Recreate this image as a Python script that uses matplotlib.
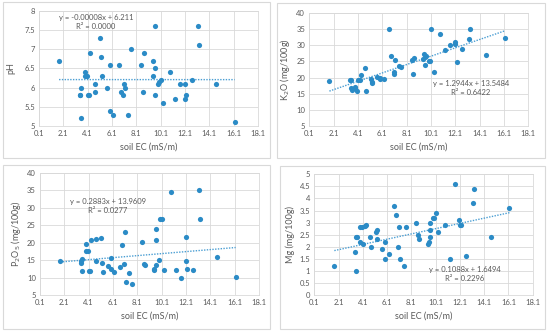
import matplotlib
matplotlib.use('Agg')
import matplotlib.pyplot as plt
from matplotlib.patches import Rectangle
from matplotlib.ticker import FormatStrFormatter, MultipleLocator

plt.rcParams['font.family'] = ['Lato', 'DejaVu Sans']

# soil EC (mS/m), shared by the four panels
soil_ec = [1.75, 3.45, 3.50, 3.56, 3.58, 3.86, 3.88, 4.05, 4.13, 4.25,
           4.33, 4.71, 4.73, 5.15, 5.23, 5.29, 5.67, 5.92, 5.95, 6.22,
           6.66, 6.85, 7.02, 7.10, 7.15, 7.45, 7.65, 8.52, 8.66, 8.69,
           9.46, 9.51, 9.60, 9.62, 9.65, 9.92, 9.98, 10.09, 10.31, 10.88,
           11.27, 11.68, 12.06, 12.09, 12.20, 12.64, 13.19, 13.27, 14.64, 16.18]

ph = [6.7, 5.8, 5.8, 6.0, 5.2, 6.4, 6.3, 6.3, 5.8, 5.8,
      6.9, 6.1, 5.9, 7.3, 6.8, 6.3, 6.0, 6.6, 5.4, 5.3,
      6.6, 5.9, 5.8, 6.1, 6.0, 5.3, 7.0, 6.6, 5.9, 6.9,
      6.7, 6.3, 7.6, 5.8, 6.5, 6.1, 6.15, 6.2, 5.6, 6.4,
      5.7, 6.1, 5.7, 6.1, 5.8, 6.2, 7.6, 7.1, 6.1, 5.1]

k2o = [18.8, 19.3, 19.3, 16.9, 16.0, 16.7, 17.2, 15.8, 19.1, 19.1,
       20.8, 23.1, 15.7, 19.6, 18.3, 18.7, 20.3, 19.6, 19.9, 19.5,
       35.1, 26.7, 21.6, 21.2, 25.5, 23.6, 23.4, 25.3, 21.2, 26.0,
       25.8, 27.3, 24.0, 26.4, 26.8, 25.0, 25.0, 35.0, 21.7, 33.6,
       28.5, 30.2, 31.0, 30.4, 24.7, 29.0, 31.9, 35.0, 27.1, 32.4]

p2o5 = [14.8, 14.3, 14.7, 15.2, 12.0, 19.7, 17.7, 17.7, 11.8, 11.8,
        20.9, 21.2, 14.8, 21.4, 14.3, 11.6, 13.3, 12.6, 15.6, 11.5,
        12.9, 19.3, 14.0, 23.0, 8.8, 11.2, 8.2, 20.1, 13.8, 13.6,
        12.1, 12.4, 13.6, 20.8, 24.0, 15.0, 26.7, 26.7, 12.3, 34.5,
        12.2, 9.8, 21.6, 14.8, 12.6, 12.3, 35.0, 26.9, 15.9, 10.3]

mg = [1.2, 1.8, 1.0, 2.4, 2.4, 2.8, 2.2, 2.8, 2.1, 2.85,
      2.9, 2.4, 2.0, 2.6, 2.7, 2.3, 1.9, 2.2, 1.5, 1.7,
      3.7, 3.3, 2.0, 2.8, 1.5, 1.2, 2.8, 3.0, 2.5, 2.3,
      2.12, 2.19, 2.41, 3.0, 2.7, 3.2, 3.2, 3.4, 2.6, 2.9,
      1.5, 4.6, 3.1, 2.9, 2.9, 1.6, 3.8, 4.4, 2.4, 3.6]

# trendline (slope, intercept, R2) as printed on the chart
trend_ph = (-0.00008, 6.211, '0.0000')
trend_k2o = (1.2944, 13.5484, '0.6422')
trend_p2o5 = (0.2883, 13.9609, '0.0277')
trend_mg = (0.1088, 1.6494, '0.2296')

eq_ph = 'y = -0.00008x + 6.211'
eq_k2o = 'y = 1.2944x + 13.5484'
eq_p2o5 = 'y = 0.2883x + 13.9609'
eq_mg = 'y = 0.1088x + 1.6494'

dot = '#2b8bc6'
grid = '#d9d9d9'
txt = '#595959'

W, H = 550, 333
fig = plt.figure(figsize=(W / 100, H / 100), dpi=100)

# outer boxes round each chart (pixels: x0, y0, x1, y1)
for x0, y0, x1, y1 in [(3, 2, 270, 158), (277, 3, 545, 158),
                       (3, 165, 270, 329), (280, 166, 545, 329)]:
    fig.patches.append(Rectangle((x0 / W, 1 - y1 / H), (x1 - x0) / W, (y1 - y0) / H,
                                 transform=fig.transFigure, fill=False,
                                 edgecolor=grid, linewidth=0.8))

panels = [
    ([0.0709, 0.6216, 0.3982, 0.3454], ph, trend_ph, eq_ph, 'pH', (5, 8, 0.5), 6, (96, 22)),
    ([0.5624, 0.6216, 0.3982, 0.3394], k2o, trend_k2o, eq_k2o, 'K$_2$O (mg/100g)', (5, 40, 5), 3, (471, 88)),
    ([0.0727, 0.1141, 0.3982, 0.3664], p2o5, trend_p2o5, eq_p2o5, 'P$_2$O$_5$ (mg/100g)', (5, 40, 5), 3, (108, 206)),
    ([0.5715, 0.1141, 0.3971, 0.3625], mg, trend_mg, eq_mg, 'Mg (mg/100g)', (0, 5, 0.5), 3, (465, 274)),
]

for rect, vals, trend, eq, ylab, (ylo, yhi, ystep), ypad, (tx, ty) in panels:
    ax = fig.add_axes(rect)
    ax.scatter(soil_ec, vals, s=14, color=dot, zorder=3, linewidths=0)
    slope, icpt, r2 = trend
    xs = [min(soil_ec), max(soil_ec)]
    ax.plot(xs, [slope * x + icpt for x in xs], color='#4a9ed3', linestyle=(0, (1, 1)),
            linewidth=1.0, zorder=2)
    ax.set_xlim(0.1, 18.1)
    ax.set_ylim(ylo, yhi)
    ax.xaxis.set_major_locator(MultipleLocator(2, offset=0.1))
    ax.yaxis.set_major_locator(MultipleLocator(ystep))
    ax.xaxis.set_major_formatter(FormatStrFormatter('%g'))
    ax.yaxis.set_major_formatter(FormatStrFormatter('%g'))
    ax.grid(True, color=grid, linewidth=0.6)
    ax.set_axisbelow(True)
    for sp in ax.spines.values():
        sp.set_color(grid)
        sp.set_linewidth(0.6)
    ax.tick_params(length=0, labelsize=5.5, labelcolor=txt, pad=3)
    ax.set_xlabel('soil EC (mS/m)', fontsize=6.5, color=txt, labelpad=4)
    ax.set_ylabel(ylab, fontsize=6.5, color=txt, labelpad=ypad)
    fig.text(tx / W, 1 - ty / H, eq + '\nR² = ' + r2, ha='center', va='center',
             fontsize=5.5, color=txt, linespacing=1.3)

fig.savefig('out.png', dpi=100, facecolor='white')
